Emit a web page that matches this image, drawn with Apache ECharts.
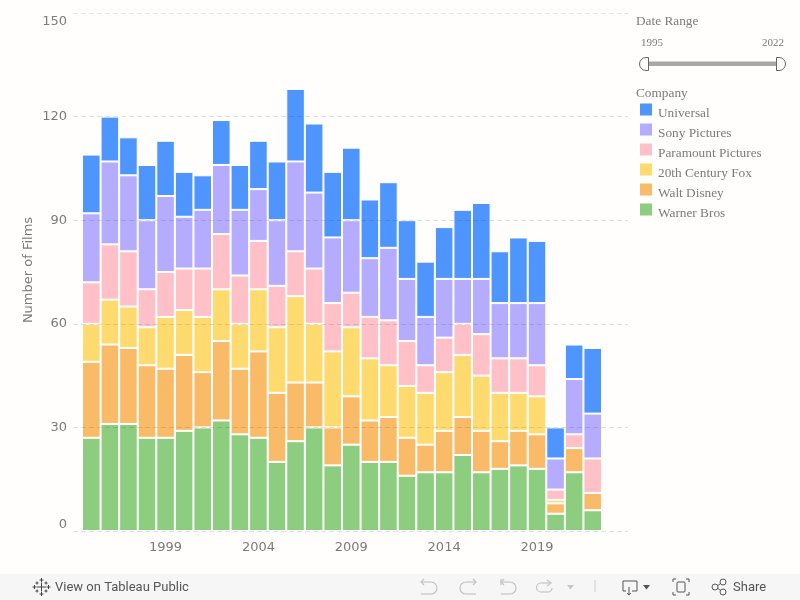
<!DOCTYPE html>
<html><head><meta charset="utf-8">
<style>html,body{margin:0;padding:0;background:#fffefd}#c{width:800px;height:600px}</style>
<script src="https://cdn.jsdelivr.net/npm/echarts@6/dist/echarts.min.js"></script>
</head><body><div id="c"></div>
<script>
const years = ['1995','1996','1997','1998','1999','2000','2001','2002','2003','2004','2005','2006','2007','2008','2009','2010','2011','2012','2013','2014','2015','2016','2017','2018','2019','2020','2021','2022'];
const warner = [27,31,31,27,27,29,30,32,28,27,20,26,30,19,25,20,20,16,17,17,22,17,18,19,18,5,17,6];
const disney = [22,23,22,21,20,22,16,23,19,25,20,17,13,11,14,12,13,11,8,12,11,12,8,10,10,3,7,5];
const fox = [11,13,12,11,15,13,16,15,13,18,19,25,17,22,20,18,15,15,15,17,18,16,14,11,11,1,0,0];
const paramount = [12,16,16,11,13,12,14,16,14,14,12,13,16,14,10,12,13,13,8,10,9,12,10,10,9,3,4,10];
const sony = [20,24,22,20,22,15,17,20,19,15,19,26,22,19,21,17,21,18,14,17,13,16,16,16,18,9,16,13];
const universal = [17,13,11,16,16,13,10,13,13,14,17,21,20,19,21,17,19,17,16,15,20,22,15,19,18,9,10,19];
const yTicks = [0,30,60,90,120,150];

const grey = '#7b7b7b', serif = '"Liberation Serif"', sans = '"DejaVu Sans"', ui = 'Roboto';
const stackDefs = [
  ['Warner Bros', warner, '#8ccd80'],
  ['Walt Disney', disney, '#fabb69'],
  ['20th Century Fox', fox, '#ffdb6f'],
  ['Paramount Pictures', paramount, '#ffc1c7'],
  ['Sony Pictures', sony, '#b5acff'],
  ['Universal', universal, '#4e95ff']
];
const chart = echarts.init(document.getElementById('c'), null, {renderer:'canvas'});
const dark = {stroke:'#555', lineWidth:1, fill:null};
const faint = {stroke:'#c4c4c4', lineWidth:1.2, fill:null};
const T = (x,y,text,font,color) => ({type:'text',x,y,silent:true,style:{text,font,fill:color,verticalAlign:'middle'}});
const L = (pts,style) => ({type:'polyline',silent:true,shape:{points:pts},style});
const A = (cx,cy,r,a,b,style) => ({type:'arc',silent:true,shape:{cx,cy,r,startAngle:a*Math.PI/180,endAngle:b*Math.PI/180,clockwise:true},style});
const C = (cx,cy,r,style) => ({type:'circle',silent:true,shape:{cx,cy,r},style});
const plus = (x,y,s,style) => [L([[x-s,y],[x+s,y]],style),L([[x,y-s],[x,y+s]],style)];
const logo = {stroke:'#444',lineWidth:1,fill:null};
chart.setOption({
  animation:false,
  backgroundColor:'#fffefd',
  grid:[
    {left:73,right:172,top:13,height:518},
    {left:82,right:198,top:13,height:518}
  ],
  xAxis:[
    {type:'category',gridIndex:0,data:years,show:false},
    {type:'category',gridIndex:1,data:years,
      axisLine:{show:false},axisTick:{show:false},
      axisLabel:{color:grey,fontFamily:sans,fontSize:13,margin:10,interval:0,
        formatter:v=>(+v-1999)%5===0?v:''}}
  ],
  yAxis:[
    {type:'value',gridIndex:0,min:0,max:150,interval:30,z:3,
      name:'Number of Films',nameLocation:'middle',nameGap:38,nameMoveOverlap:false,
      nameTextStyle:{color:grey,fontFamily:sans,fontSize:13,padding:[0,0,0,4]},
      axisLine:{show:false},axisTick:{show:false},
      axisLabel:{color:grey,fontFamily:sans,fontSize:13,margin:6,padding:[2,0,0,0],verticalAlignMinLabel:'bottom',verticalAlignMaxLabel:'top',
        formatter:v=>yTicks.includes(v)?String(v):''},
      splitLine:{show:true,lineStyle:{color:'rgba(0,0,0,0.11)',type:[5,3],width:1}}},
    {type:'value',gridIndex:1,min:0,max:150,interval:30,show:false,splitLine:{show:false}}
  ],
  legend:{orient:'vertical',left:640,top:99,itemWidth:12,itemHeight:12,itemGap:-1,icon:'rect',
    selectedMode:false,data:stackDefs.map(d=>d[0]).reverse(),
    itemStyle:{borderWidth:0},
    formatter:'{t|{name}}',
    textStyle:{color:grey,fontFamily:serif,fontSize:13.3,
      rich:{t:{color:grey,fontFamily:serif,fontSize:13.3,lineHeight:14,padding:[8,0,0,1]}}},padding:0},
  series:stackDefs.map(([name,data,color])=>({
    name,type:'bar',stack:'films',data,xAxisIndex:1,yAxisIndex:1,barCategoryGap:0,
    itemStyle:{color,opacity:1,borderColor:'#fff',borderWidth:1}
  })),
  graphic:{elements:[
    T(636,22,'Date Range','13.3px '+serif,grey),
    T(641,43,'1995','11px '+serif,grey),
    T(762,43,'2022','11px '+serif,grey),
    {type:'rect',silent:true,shape:{x:648,y:61.5,width:129,height:4.5},style:{fill:'#a9a8a6'}},
    {type:'rect',silent:true,shape:{x:639.5,y:57.5,width:9,height:13,r:[6.5,0,0,6.5]},style:{fill:'#fffefd',stroke:'#666',lineWidth:1}},
    {type:'rect',silent:true,shape:{x:776.5,y:57.5,width:9,height:13,r:[0,6.5,6.5,0]},style:{fill:'#fffefd',stroke:'#666',lineWidth:1}},
    T(636,94,'Company','13.3px '+serif,grey),
    {type:'rect',silent:true,shape:{x:0,y:574,width:800,height:26},style:{fill:'#f6f6f6'}},
    T(55,588,'View on Tableau Public','13px '+ui,'#555'),
    ...plus(41.5,587,4.5,logo),...plus(41.5,580,2,logo),...plus(41.5,594,2,logo),...plus(34.5,587,2,logo),...plus(48.5,587,2,logo),
    ...plus(37,583,1.5,logo),...plus(46,583,1.5,logo),...plus(37,591,1.5,logo),...plus(46,591,1.5,logo),
    L([[424,579],[421,582],[424,585]],faint),L([[421,582],[431,582]],faint),A(431,588,6,-90,90,faint),L([[431,594],[421,594]],faint),
    L([[473,579],[476,582],[473,585]],faint),L([[476,582],[466,582]],faint),A(466,588,6,90,270,faint),L([[466,594],[476,594]],faint),
    L([[501,579],[501,585]],faint),L([[504,579],[501,582],[504,585]],faint),L([[501,582],[510,582]],faint),A(510,588,6,-90,90,faint),L([[510,594],[501,594]],faint),
    L([[547,580],[551,583],[547,586]],faint),L([[551,583],[541,583]],faint),A(541,587.5,4.5,90,270,faint),L([[541,592],[548,592]],faint),A(548,588,4,0,90,faint),
    {type:'polygon',silent:true,shape:{points:[[567,585],[574,585],[570.5,589.5]]},style:{fill:'#c8c8c8'}},
    L([[595,580],[595,592]],{stroke:'#ccc',lineWidth:1,fill:null}),
    L([[626,591],[623,591],[623,581],[637,581],[637,591],[632,591]],dark),
    L([[629,587],[629,595]],dark),L([[627,593],[629,595],[631,593]],dark),
    {type:'polygon',silent:true,shape:{points:[[643,585],[650,585],[646.5,589.5]]},style:{fill:'#555'}},
    {type:'rect',silent:true,shape:{x:677,y:582,width:8,height:10,r:1},style:dark},
    L([[673,582],[673,579],[676,579]],dark),L([[686,579],[689,579],[689,582]],dark),L([[673,592],[673,595],[676,595]],dark),L([[686,595],[689,595],[689,592]],dark),
    C(723,582,3,dark),C(715,587,3,dark),C(723,592,3,dark),
    L([[718,585.5],[720.5,583.5]],dark),L([[718,588.5],[720.5,590.5]],dark),
    T(733,588,'Share','13px '+ui,'#555')
  ]}
});
</script></body></html>
